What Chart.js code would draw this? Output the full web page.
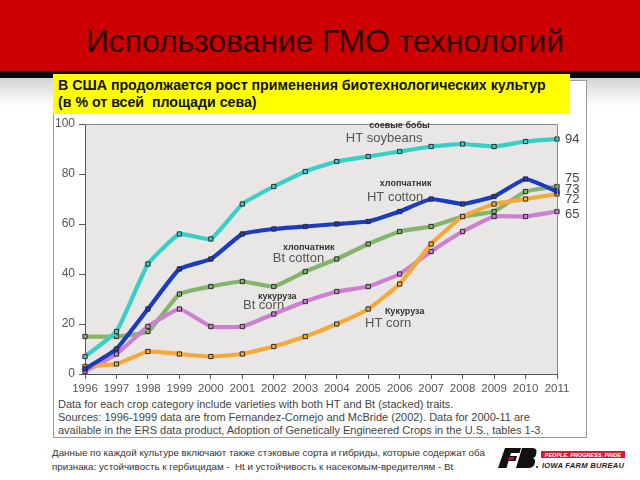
<!DOCTYPE html>
<html><head><meta charset="utf-8">
<script src="https://cdn.jsdelivr.net/npm/chart.js@4"></script>
<style>
html,body{margin:0;padding:0;width:640px;height:480px;overflow:hidden;background:#fff;font-family:"Liberation Sans",Arial,sans-serif;}
#hdr{position:absolute;left:0;top:0;width:640px;height:71px;background:#cc0000;}
#title{position:absolute;left:86px;top:23px;font-size:31.8px;color:#2b0404;white-space:nowrap;line-height:36px;}
#band{position:absolute;left:0;top:71px;width:640px;height:7px;background:#0a0a0a;}
#grad{position:absolute;left:0;top:78px;width:640px;height:28px;background:linear-gradient(#d4d4d4,#ffffff);}
#panel{position:absolute;left:53px;top:80px;width:532px;height:356px;border:1px solid #9a9a9a;background:#fff;}
#yellow{position:absolute;left:53px;top:74px;width:517px;height:40px;background:#ffff00;box-sizing:border-box;padding:3px 0 0 5px;font-weight:bold;font-size:14.2px;line-height:17px;color:#111;white-space:nowrap;}
#cap{position:absolute;left:58px;top:398px;font-size:11px;line-height:13px;color:#444;white-space:nowrap;}
#note{position:absolute;left:52px;top:446px;font-size:9.8px;line-height:14px;color:#333;white-space:nowrap;}
#logo{position:absolute;left:497px;top:446px;}
#cw{position:absolute;left:0;top:0;width:640px;height:480px;}
</style>
</head><body>
<div id="hdr"><div id="title">Использование ГМО технологий</div></div>
<div id="band"></div>
<div id="grad"></div>
<div id="panel"></div>
<div id="yellow">В США продолжается рост применения биотехнологических культур<br>(в % от всей&nbsp; площади сева)</div>
<div id="cap">Data for each crop category include varieties with both HT and Bt (stacked) traits.<br>Sources: 1996-1999 data are from Fernandez-Cornejo and McBride (2002). Data for 2000-11 are<br>available in the ERS data product, Adoption of Genetically Engineered Crops in the U.S., tables 1-3.</div>
<div id="note">Данные по каждой культуре включают также стэковые сорта и гибриды, которые содержат оба<br>признака: устойчивость к гербицидам -&nbsp; Ht и устойчивость к насекомым-вредителям - Bt</div>
<svg id="logo" width="140" height="28" viewBox="0 0 140 28">
  <path d="M8 2 H24 L22.5 7 H14 L13 10 H20 L18.5 15 H11.5 L9.5 22 H1 Z" fill="#111"/>
  <path d="M12 11 H17 L16 14 H11 Z" fill="#d0102a"/>
  <path d="M25 2 H35 Q40 2 39.5 6 L39 9 Q38.5 11.5 36 12 Q38.5 13 38 16 L37.5 18 Q36.5 22 31 22 H19 Z" fill="#111"/>
  <circle cx="40" cy="21" r="1" fill="#111"/>
  <rect x="44" y="5" width="84" height="7" fill="#d8192d"/>
  <text x="86" y="10.5" font-family="Liberation Sans,Arial" font-size="5.5" font-weight="bold" font-style="italic" fill="#fff" text-anchor="middle">PEOPLE. PROGRESS. PRIDE</text>
  <text x="45" y="21.5" font-family="Liberation Sans,Arial" font-size="7.6" font-weight="bold" font-style="italic" fill="#222" textLength="82">IOWA FARM BUREAU</text>
</svg>
<div id="cw"><canvas id="c" width="640" height="480"></canvas></div>
<script>
const years = ['1996','1997','1998','1999','2000','2001','2002','2003','2004','2005','2006','2007','2008','2009','2010','2011'];
const htSoybeans = [7,17,44,56,54,68,75,81,85,87,89,91,92,91,93,94];
const htCotton   = [2,10,26,42,46,56,58,59,60,61,65,70,68,71,78,73];
const btCotton   = [15,15,17,32,35,37,35,41,46,52,57,59,63,65,73,75];
const btCorn     = [1,8,19,26,19,19,24,29,33,35,40,49,57,63,63,65];
const htCorn     = [3,4,9,8,7,8,11,15,20,26,36,52,63,68,70,72];
const yTicks = [0,20,40,60,80,100];

function ds(label, data, color, dy){
  return {label, data, borderColor:color, backgroundColor:color, borderWidth:4.2,
    pointStyle:'rect', pointRadius:3, pointBackgroundColor:color, pointBorderColor:'#2b2b2b',
    pointBorderWidth:1, tension:0.12, fill:false, endDy:dy};
}

const decor = {
  id:'decor',
  beforeDraw(chart){
    const {ctx, chartArea:a} = chart;
    ctx.save(); ctx.fillStyle='#e9e7e5';
    ctx.fillRect(a.left,a.top,a.right-a.left,a.bottom-a.top); ctx.restore();
  },
  afterDraw(chart, args, opts){
    const {ctx, chartArea:a, scales:{x,y}} = chart;
    ctx.save();
    ctx.strokeStyle='#8a8a8a'; ctx.lineWidth=1;
    ctx.beginPath(); ctx.moveTo(a.left, a.top+0.5); ctx.lineTo(a.right+0.5, a.top+0.5); ctx.lineTo(a.right+0.5, a.bottom); ctx.stroke();
    ctx.textAlign='left'; ctx.textBaseline='middle';
    for (const n of opts.notes){
      ctx.font = n.font; ctx.fillStyle = n.color;
      ctx.fillText(n.text, x.getPixelForValue(n.x), y.getPixelForValue(n.y));
    }
    ctx.font = '13px "Liberation Sans", Arial'; ctx.fillStyle = '#444';
    chart.data.datasets.forEach(d => {
      const v = d.data[d.data.length-1];
      ctx.fillText(String(v), a.right + 8, y.getPixelForValue(v) + d.endDy);
    });
    ctx.restore();
  }
};

const small = 'bold 9px "Liberation Sans", Arial';
const big = '13px "Liberation Sans", Arial';
new Chart(document.getElementById('c'), {
  type:'line',
  data:{ labels: years, datasets:[
    ds('HT cotton', htCotton, '#1b3cc0', -2),
    ds('HT soybeans', htSoybeans, '#37cfc6', 0),
    ds('HT corn', htCorn, '#f5a93b', 5),
    ds('Bt corn', btCorn, '#cd80d0', 3),
    ds('Bt cotton', btCotton, '#85b56d', -8)
  ]},
  options:{
    responsive:false, animation:false, devicePixelRatio:1,
    layout:{padding:{left:50, right:83, top:124, bottom:81}},
    plugins:{
      legend:{display:false}, tooltip:{enabled:false}, title:{display:false},
      decor:{notes:[
        {text:'соевые бобы', x:9.03, y:99.2, font:small, color:'#333'},
        {text:'HT soybeans', x:8.29, y:94.4, font:big, color:'#555'},
        {text:'хлопчатник', x:9.37, y:76, font:small, color:'#333'},
        {text:'HT cotton', x:8.96, y:70.8, font:big, color:'#555'},
        {text:'хлопчатник', x:6.29, y:50.4, font:small, color:'#333'},
        {text:'Bt cotton', x:5.97, y:46.4, font:big, color:'#555'},
        {text:'кукуруза', x:5.5, y:30.8, font:small, color:'#333'},
        {text:'Bt corn', x:5.02, y:27.6, font:big, color:'#555'},
        {text:'Кукуруза', x:9.53, y:24.8, font:small, color:'#333'},
        {text:'HT corn', x:8.9, y:20.4, font:big, color:'#555'}
      ]}
    },
    scales:{
      x:{ type:'category', offset:false,
        afterFit(s){ s.height = 25; },
        border:{display:true, color:'#555', width:1},
        grid:{display:true, drawOnChartArea:false, drawTicks:true, tickLength:5, color:'#555'},
        ticks:{color:'#555', font:{size:11.5, family:'"Liberation Sans", Arial'}, padding:3, maxRotation:0, autoSkip:false}
      },
      y:{ min:0, max:100,
        afterFit(s){ s.width = 35; },
        afterBuildTicks(s){ s.ticks = yTicks.map(v => ({value:v})); },
        border:{display:true, color:'#555', width:1},
        grid:{display:true, drawOnChartArea:false, drawTicks:true, tickLength:6, color:'#555'},
        ticks:{color:'#555', font:{size:12, family:'"Liberation Sans", Arial'}, padding:4}
      }
    }
  },
  plugins:[decor]
});
</script>
</body></html>
